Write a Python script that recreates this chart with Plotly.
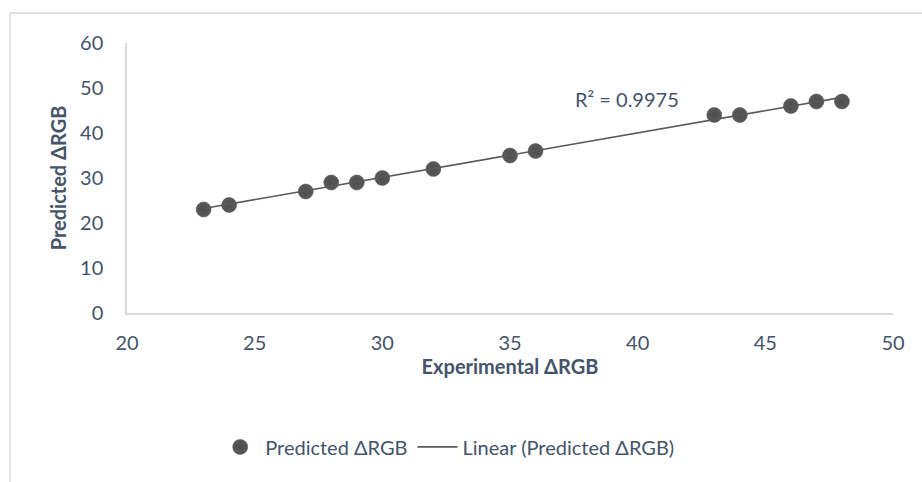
import numpy as np
import plotly.graph_objects as go

experimental = [23, 24, 27, 28, 29, 30, 32, 35, 36, 43, 44, 46, 47, 48]
predicted = [23, 24, 27, 29, 29, 30, 32, 35, 36, 44, 44, 46, 47, 47]
x_ticks = [20, 25, 30, 35, 40, 45, 50]
y_ticks = [0, 10, 20, 30, 40, 50, 60]
r2_label = "R² = 0.9975"
series_name = "Predicted ΔRGB"
trend_name = "Linear (Predicted ΔRGB)"

slope, intercept = np.polyfit(experimental, predicted, 1)
tx = [min(experimental), max(experimental)]
ty = [slope * v + intercept for v in tx]

TEXT = "#44546A"
FONT = "Lato, 'Open Sans', sans-serif"

fig = go.Figure()
fig.add_trace(go.Scatter(
    x=experimental, y=predicted, mode="markers", name=series_name,
    marker=dict(size=15, color="#595959",
                gradient=dict(type="radial", color="#4d4d4d"),
                line=dict(width=0.5, color="#4a4a4a")),
))
fig.add_trace(go.Scatter(
    x=tx, y=ty, mode="lines", name=trend_name,
    line=dict(color="#595959", width=1.6),
))

fig.add_annotation(x=39.6, y=47.6, text=r2_label, showarrow=False,
                   font=dict(family=FONT, size=20, color=TEXT))

# outer chart border (cropped)
fig.add_shape(type="line", xref="paper", yref="paper",
              x0=-0.1527, x1=1.2, y0=1.111, y1=1.111,
              line=dict(color="#D9D9D9", width=1.5))
fig.add_shape(type="line", xref="paper", yref="paper",
              x0=-0.1527, x1=-0.1527, y0=1.111, y1=-0.7,
              line=dict(color="#D9D9D9", width=1.5))

fig.update_layout(
    width=922, height=482,
    margin=dict(l=127, r=29, t=43, b=169),
    paper_bgcolor="white", plot_bgcolor="white",
    font=dict(family=FONT, size=20, color=TEXT),
    showlegend=True,
    legend=dict(orientation="h", x=0.418, y=-0.496, xanchor="center", yanchor="middle",
                font=dict(family=FONT, size=20, color=TEXT), itemwidth=40),
    xaxis=dict(range=[20, 50], tickvals=x_ticks, showgrid=False, zeroline=False,
               showline=True, linecolor="#D9D9D9", linewidth=1.5, ticks="",
               tickfont=dict(size=20, color=TEXT), ticklabelstandoff=11,
               title=dict(text="<b>Experimental ΔRGB</b>", standoff=6,
                          font=dict(size=20, color=TEXT))),
    yaxis=dict(range=[0, 60], tickvals=y_ticks, showgrid=False, zeroline=False,
               showline=True, linecolor="#D9D9D9", linewidth=1.5, ticks="",
               tickfont=dict(size=20, color=TEXT), ticklabelstandoff=18,
               title=dict(text="<b>Predicted ΔRGB</b>", standoff=8,
                          font=dict(size=20, color=TEXT))),
)

fig.write_html("out.html")
